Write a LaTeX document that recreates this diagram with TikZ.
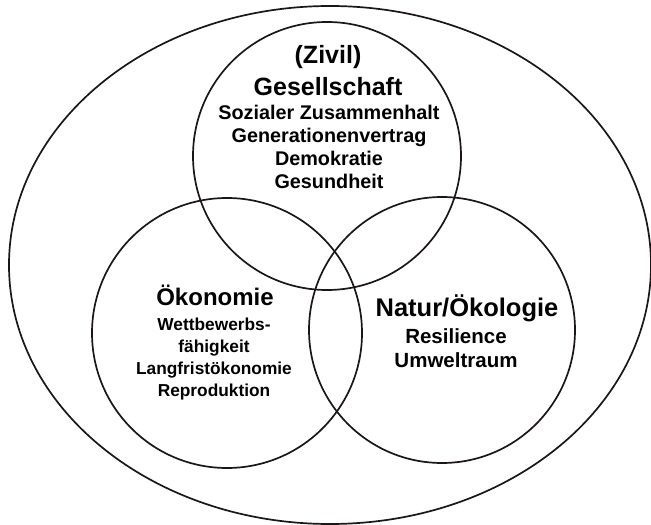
\documentclass[tikz,border=0pt]{standalone}
\usepackage{fontspec}
\setmainfont{Liberation Sans}
\usepackage{xcolor}
\definecolor{ringblack}{RGB}{28,22,22}

\begin{document}
\begin{tikzpicture}[x=1bp, y=-1bp]
  \useasboundingbox (0,0) rectangle (651,525);

  \draw[ringblack, line width=1.7bp] (330,265) ellipse (321bp and 259bp);

  \node[circle, draw=ringblack, line width=1.7bp, minimum size=268bp] (gesellschaft) at (327, 156) {};
  \node[circle, draw=ringblack, line width=1.7bp, minimum size=270bp] (oekonomie) at (227, 333) {};
  \node[circle, draw=ringblack, line width=1.7bp, minimum size=266bp] (natur) at (442, 330) {};

  \node[anchor=north, inner sep=0, align=center, font=\bfseries\fontsize{25bp}{31.7bp}\selectfont] (gtitel) at (328, 45.5) {(Zivil)\\Gesellschaft};
  \node[anchor=north, inner sep=0, align=center, font=\bfseries\fontsize{19.8bp}{23bp}\selectfont] (gliste) at (329, 105) {Sozialer Zusammenhalt\\Generationenvertrag\\Demokratie\\Gesundheit};

  \node[anchor=north, inner sep=0, align=center, font=\bfseries\fontsize{24bp}{28bp}\selectfont] (otitel) at (215, 285) {Ökonomie};
  \node[anchor=north, inner sep=0, align=center, font=\bfseries\fontsize{17.3bp}{22.2bp}\selectfont] (oliste) at (214, 317.5) {Wettbewerbs-\\fähigkeit\\Langfristökonomie\\Reproduktion};

  \node[anchor=north, inner sep=0, align=center, font=\bfseries\fontsize{25.5bp}{30bp}\selectfont] (ntitel) at (467, 295) {Natur/Ökologie};
  \node[anchor=north, inner sep=0, align=center, font=\bfseries\fontsize{20.5bp}{24bp}\selectfont] (nliste) at (456, 328.5) {Resilience\\Umweltraum};
\end{tikzpicture}
\end{document}
